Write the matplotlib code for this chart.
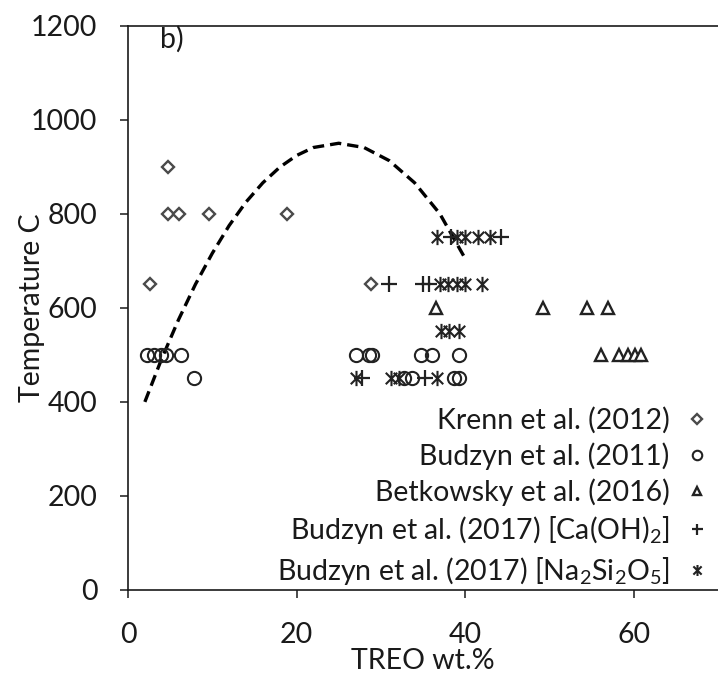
import matplotlib
matplotlib.use("Agg")
import matplotlib.pyplot as plt
from matplotlib.path import Path

# --- data -------------------------------------------------------------
krenn_x = [2.6, 4.7, 4.8, 6.0, 9.6, 18.9, 28.8]
krenn_t = [650, 900, 800, 800, 800, 800, 650]

budzyn2011_x = [2.3, 3.1, 3.9, 4.5, 6.3, 7.8, 27.0, 28.6, 29.0, 34.8, 36.1, 39.3,
                32.8, 33.7, 38.7, 39.3]
budzyn2011_t = [500, 500, 500, 500, 500, 450, 500, 500, 500, 500, 500, 500,
                450, 450, 450, 450]

betkowsky_x = [36.5, 49.2, 54.5, 56.9, 56.1, 58.3, 59.3, 60.1, 60.9]
betkowsky_t = [600, 600, 600, 600, 500, 500, 500, 500, 500]

ca_x = [38.3, 44.3, 31.0, 35.0, 35.7, 27.8, 35.2]
ca_t = [750, 750, 650, 650, 650, 450, 450]

na_x = [36.7, 39.0, 40.0, 41.5, 43.0, 37.0, 38.0, 39.0, 40.0, 42.0,
        37.1, 38.1, 39.3, 27.0, 31.2, 32.2, 36.7]
na_t = [750, 750, 750, 750, 750, 650, 650, 650, 650, 650,
        550, 550, 550, 450, 450, 450, 450]

# dashed trend curve
trend_x = [2, 4, 6, 8, 10, 12, 14, 16, 18, 20, 22, 25, 28, 31, 34, 37, 40]
trend_t = [400, 492, 575, 650, 716, 775, 825, 866, 899, 924, 941, 950, 941,
           913, 866, 800, 705]

x_ticks = [0, 20, 40, 60]
y_ticks = [0, 200, 400, 600, 800, 1000, 1200]

labels = [
    "Krenn et al. (2012)",
    "Budzyn et al. (2011)",
    "Betkowsky et al. (2016)",
    r"Budzyn et al. (2017) [Ca(OH)$_\mathregular{2}$]",
    r"Budzyn et al. (2017) [Na$_\mathregular{2}$Si$_\mathregular{2}$O$_\mathregular{5}$]",
]

# --- style ------------------------------------------------------------
plt.rcParams["font.family"] = ["Lato", "DejaVu Sans"]
FS = 20.5
INK = "#1a1a1a"
EDGE = "#222222"
DIAMOND_EDGE = "#4a4a4a"

# six-armed star: vertical bar plus two diagonals
star = Path(
    [(0, -1), (0, 1), (-0.75, -0.75), (0.75, 0.75), (-0.75, 0.75), (0.75, -0.75)],
    [Path.MOVETO, Path.LINETO, Path.MOVETO, Path.LINETO, Path.MOVETO, Path.LINETO],
)

W, H = 718, 675
fig = plt.figure(figsize=(W / 100, H / 100), dpi=100)
left, bottom, top = 128, 590, 25.7
ax = fig.add_axes([left / W, 1 - bottom / H, 1 - left / W, (bottom - top) / H])

ax.plot(trend_x, trend_t, color="black", lw=2.4, ls=(0, (3.4, 1.8)), zorder=2)

ax.plot(krenn_x, krenn_t, ls="none", marker="D", ms=6.5, mfc="white",
        mec=DIAMOND_EDGE, mew=1.7, label=labels[0], zorder=3)
ax.plot(budzyn2011_x, budzyn2011_t, ls="none", marker="o", ms=9.5, mfc="none",
        mec=EDGE, mew=1.5, label=labels[1], zorder=3)
ax.plot(betkowsky_x, betkowsky_t, ls="none", marker="^", ms=8.5, mfc="white",
        mec=EDGE, mew=1.7, label=labels[2], zorder=3)
ax.plot(ca_x, ca_t, ls="none", marker="+", ms=11, mec=EDGE, mew=1.6,
        label=labels[3], zorder=3)
ax.plot(na_x, na_t, ls="none", marker=star, ms=11, mec=EDGE, mew=1.5,
        label=labels[4], zorder=3)

ax.set_xlim(0, 70)
ax.set_ylim(0, 1200)
ax.set_xticks(x_ticks)
ax.set_yticks(y_ticks)
ax.tick_params(direction="out", length=6, width=1.1, colors=INK,
               labelsize=FS)
ax.tick_params(axis="y", pad=16)
ax.tick_params(axis="x", pad=17)
for s in ("left", "bottom", "top"):
    ax.spines[s].set_color(INK)
    ax.spines[s].set_linewidth(1.2)
ax.spines["right"].set_visible(False)

ax.set_xlabel("TREO wt.%", fontsize=FS, color=INK, labelpad=0)
ax.set_ylabel("Temperature C", fontsize=FS, color=INK)
ax.yaxis.set_label_coords(-0.141, 0.5)

fig.text(160 / W, 1 - 39 / H, "b)", fontsize=FS, color=INK,
         ha="left", va="center")

leg = ax.legend(loc="lower right", bbox_to_anchor=(708 / W, 1 - 587 / H),
                bbox_transform=fig.transFigure, frameon=False,
                markerfirst=False, fontsize=FS, handlelength=0.8,
                handletextpad=0.55, labelspacing=0.3, borderpad=0,
                borderaxespad=0, markerscale=0.72)
for t in leg.get_texts():
    t.set_color(INK)

fig.savefig("out.png", dpi=100, facecolor="white")
